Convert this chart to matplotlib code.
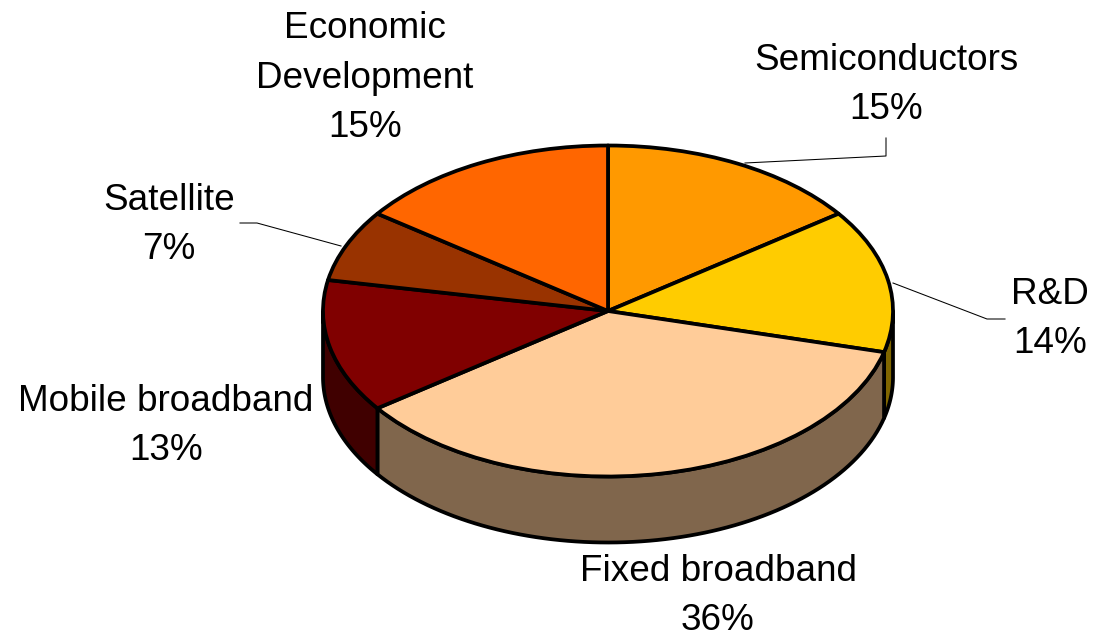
import numpy as np
import matplotlib
matplotlib.use('Agg')
import matplotlib.pyplot as plt
from matplotlib.patches import Polygon

# Budget shares, clockwise from twelve o'clock
categories = ['Semiconductors', 'R&D', 'Fixed broadband', 'Mobile broadband', 'Satellite', 'Economic\nDevelopment']
shares = [15, 14, 36, 13, 7, 15]
top_colors = ['#FF9900', '#FFCC00', '#FFCC99', '#800000', '#993300', '#FF6600']
side_colors = ['#804C00', '#806600', '#80664C', '#400000', '#4C1900', '#803300']

W, H = 1093, 639
cx, cy = 608, 311      # pie centre in pixels
rx, ry = 285, 165.5    # ellipse radii in pixels
depth = 66 / ry        # thickness of the disc, in pie units
edge_w = 2.7

plt.rcParams['font.family'] = ['Liberation Sans', 'DejaVu Sans']

fig = plt.figure(figsize=(W / 100, H / 100), dpi=100)
ax = fig.add_axes([0, 0, 1, 1])

# Top face: a normal pie, squashed afterwards by releasing the aspect
ax.pie(shares, colors=top_colors, startangle=90, counterclock=False,
       wedgeprops={'edgecolor': 'black', 'linewidth': edge_w, 'joinstyle': 'round'})
ax.set_aspect('auto')
ax.set_xlim(-cx / rx, (W - cx) / rx)
ax.set_ylim((cy - H) / ry, cy / ry)
for w in ax.patches:
    w.set_zorder(3)

# Side walls for the part of each slice facing the viewer
edges = np.concatenate([[0], np.cumsum(shares)]) * 360 / sum(shares)
for i in range(len(shares)):
    a, b = max(edges[i], 90), min(edges[i + 1], 270)
    if a >= b:
        continue
    t = np.radians(np.linspace(a, b, 80))
    upper = np.column_stack([np.sin(t), np.cos(t)])
    lower = (upper - [0, depth])[::-1]
    ax.add_patch(Polygon(np.vstack([upper, lower]), closed=True, facecolor=side_colors[i],
                         edgecolor='black', linewidth=edge_w, joinstyle='round', zorder=2))

# Overlay in pixel coordinates for the labels and leader lines
ov = fig.add_axes([0, 0, 1, 1])
ov.set_xlim(0, W)
ov.set_ylim(H, 0)
ov.axis('off')
ov.patch.set_alpha(0)

label_pos = [(886, 85), (1050, 319), (718, 596), (166, 426), (169, 225), (365, 78)]
for name, s, (x, y) in zip(categories, shares, label_pos):
    ov.text(x, y, f'{name}\n{s}%', ha='center', va='center', fontsize=26.6,
            linespacing=1.52, color='black')

leaders = [
    ([745, 886, 886], [163, 156, 138]),
    ([893, 987, 1005], [283, 319, 319]),
    ([341, 257, 240], [246, 223, 223]),
]
for xs, ys in leaders:
    ov.plot(xs, ys, color='black', linewidth=0.75)

fig.savefig('out.png', dpi=100)
